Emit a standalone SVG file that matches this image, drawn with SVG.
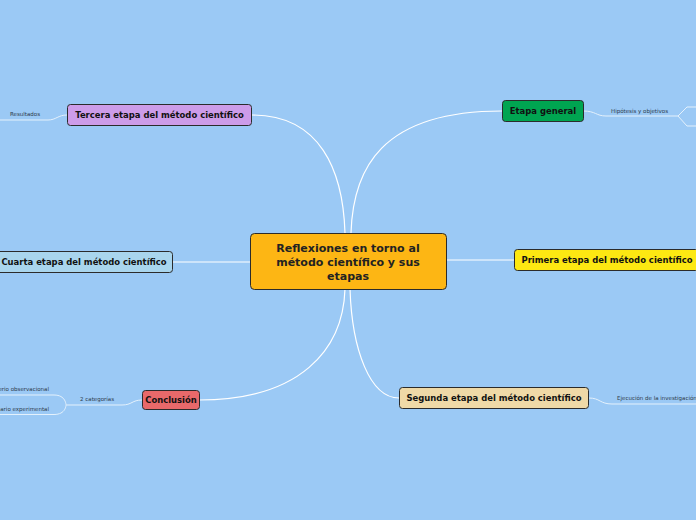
<svg xmlns="http://www.w3.org/2000/svg" width="696" height="520" viewBox="0 0 696 520">
<style>
.node{stroke:#2b2b2b;stroke-width:1}
.t{font-family:"DejaVu Sans",sans-serif;font-weight:bold;font-size:8.45px;fill:#111;text-anchor:middle;dominant-baseline:central}
.c{font-size:11px;fill:#222}
.s{font-family:"DejaVu Sans",sans-serif;font-size:5.5px;fill:#2d3a4a;dominant-baseline:central}
.ln{fill:none;stroke:#ffffff;stroke-width:1.2}
.sl{fill:none;stroke:#e4f1fc;stroke-width:1}
</style>
<rect width="696" height="520" fill="#9bc9f5"/>
<g id="connectors">
<path class="ln" d="M345,233 C343,170 320,115 252,115"/>
<path class="ln" d="M351,233 C353,170 380,111 502,111"/>
<path class="ln" d="M446,260 L514,260"/>
<path class="ln" d="M173,262 L250,262"/>
<path class="ln" d="M345,289 C343,350 300,400 199,400"/>
<path class="ln" d="M350,289 C352,350 370,398 399,398"/>
<path class="sl" d="M67,115 C58,115 56,120 48,120 L0,120"/>
<path class="sl" d="M583,111 C596,111 596,116 606,116 L678,116 L687,107 L696,107 M678,116 L687,126 L696,126"/>
<path class="sl" d="M589,398 C600,398 600,404 612,404 L696,404"/>
<path class="sl" d="M142,400 C132,400 132,405 122,405 L66,405 M0,395 L54,395 C66,395 66,405 66,405 C66,405 66,414.5 54,414.5 L0,414.5"/>
</g>
<g id="central">
<rect class="node" x="250.5" y="233.5" width="196" height="56" rx="4" fill="#fdb614"/>
<text class="t c" x="348" y="248">Reflexiones en torno al</text>
<text class="t c" x="348" y="262">método científico y sus</text>
<text class="t c" x="348" y="276">etapas</text>
</g>
<g id="tercera">
<rect class="node" x="67.5" y="104.5" width="184" height="21" rx="3" fill="#cd9ce9"/>
<text class="t" x="159.5" y="115">Tercera etapa del método científico</text>
<text class="s" x="10" y="114">Resultados</text>
</g>
<g id="etapa-general">
<rect class="node" x="502.5" y="100.5" width="81" height="21" rx="3" fill="#00a551"/>
<text class="t" x="543" y="111">Etapa general</text>
<text class="s" x="611" y="111">Hipótesis y objetivos</text>
</g>
<g id="primera">
<rect class="node" x="514.5" y="249.5" width="184" height="21" rx="3" fill="#fde812"/>
<text class="t" x="607" y="260">Primera etapa del método científico</text>
</g>
<g id="cuarta">
<rect class="node" x="-6.5" y="251.5" width="179" height="21" rx="3" fill="#a9d5ed"/>
<text class="t" x="84" y="262">Cuarta etapa del método científico</text>
</g>
<g id="conclusion">
<rect class="node" x="142.5" y="390.5" width="57" height="19" rx="3" fill="#e8696a"/>
<text class="t" x="171" y="400">Conclusión</text>
<text class="s" x="80" y="399">2 categorías</text>
<text class="s" x="49" y="389" text-anchor="end">erio observacional</text>
<text class="s" x="49" y="409" text-anchor="end">ario experimental</text>
</g>
<g id="segunda">
<rect class="node" x="399.5" y="387.5" width="189" height="21" rx="3" fill="#efd9a7"/>
<text class="t" x="494" y="398">Segunda etapa del método científico</text>
<text class="s" x="617" y="398">Ejecución de la investigación</text>
</g>
</svg>
